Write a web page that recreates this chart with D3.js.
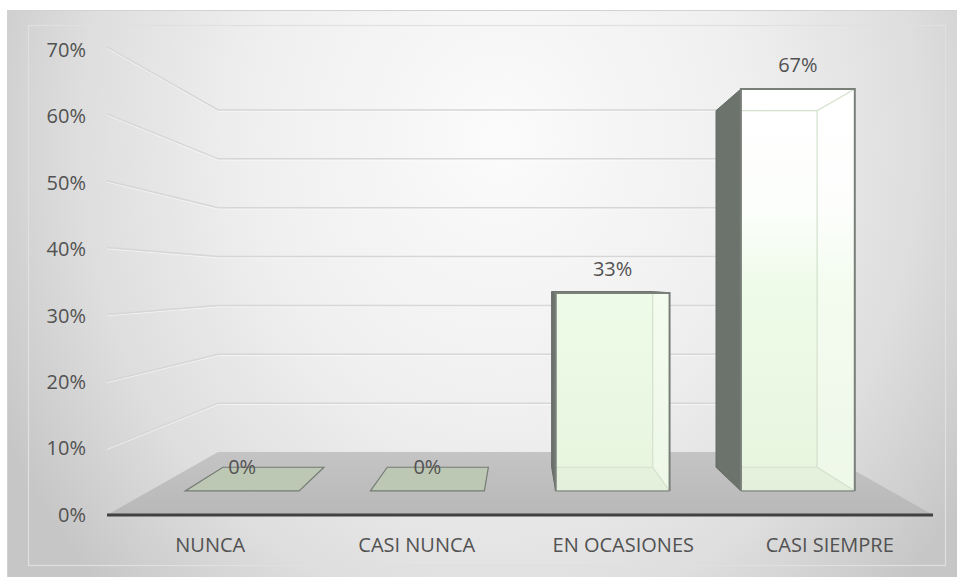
<!DOCTYPE html>
<html>
<head>
<meta charset="utf-8">
<script src="https://cdn.jsdelivr.net/npm/d3@7"></script>
<style>
  html, body { margin: 0; padding: 0; background: #ffffff; }
  svg { display: block; }
</style>
</head>
<body>
<script>
// ---- data ----
const categories = ["NUNCA", "CASI NUNCA", "EN OCASIONES", "CASI SIEMPRE"];
const values = [0, 0, 0.33, 0.67];
const yTicks = [0, 0.1, 0.2, 0.3, 0.4, 0.5, 0.6, 0.7];

const W = 957, H = 577;
const svg = d3.select("body").append("svg").attr("width", W).attr("height", H);
const pct = d3.format(".0%");
const FONT = "'Open Sans', 'Noto Sans', sans-serif";
const TEXT = "#525252";

// ---- scales on the front plane of the 3D box ----
const x = d3.scaleBand().domain(categories).range([107, 933])
  .paddingInner(0.385).paddingOuter(0.1925);
const y = d3.scaleLinear().domain([0, 0.7]).range([515, 47]);
const yLabel = d3.scaleLinear().domain([0, 0.7]).range([515, 50]);

// ---- perspective: points shrink toward a vanishing point with depth ----
const VP = [520, 281];
const DEPTH = { front: 1, barFront: 0.897, barBack: 0.796, wall: 0.731 };
const proj = (px, py, k) => [VP[0] + (px - VP[0]) * k, VP[1] + (py - VP[1]) * k];
const line = d3.line();

// ---- gradients ----
const defs = svg.append("defs");
const bg = defs.append("radialGradient").attr("id", "bgGrad")
  .attr("gradientUnits", "userSpaceOnUse")
  .attr("cx", 0).attr("cy", 0).attr("r", 1)
  .attr("gradientTransform", "translate(500,140) scale(560,640)");
[[0, "#fbfbfb"], [0.45, "#efefef"], [0.75, "#dedede"], [0.93, "#cdcdcd"], [1, "#c6c6c6"]]
  .forEach(([o, c]) => bg.append("stop").attr("offset", o).attr("stop-color", c));

const barGrad = defs.append("linearGradient").attr("id", "barGrad")
  .attr("gradientUnits", "userSpaceOnUse")
  .attr("x1", 0).attr("y1", 88).attr("x2", 0).attr("y2", 491);
[[0, "#ffffff"], [0.3, "#fcfefb"], [0.5, "#eefbe8"], [1, "#e7f5df"]]
  .forEach(([o, c]) => barGrad.append("stop").attr("offset", o).attr("stop-color", c));

const floorGrad = defs.append("linearGradient").attr("id", "floorGrad")
  .attr("x1", 0).attr("y1", 0).attr("x2", 0).attr("y2", 1);
[[0, "#c4c4c4"], [1, "#b8b8b8"]]
  .forEach(([o, c]) => floorGrad.append("stop").attr("offset", o).attr("stop-color", c));

// ---- chart area ----
svg.append("rect").attr("x", 7.5).attr("y", 10.5).attr("width", W).attr("height", H)
  .attr("fill", "url(#bgGrad)").attr("stroke", "#d2d2d2");
svg.append("rect").attr("x", 28.5).attr("y", 25.5).attr("width", 917).attr("height", 540)
  .attr("fill", "none").attr("stroke", "#e0e0e0").attr("stroke-width", 1.2);

// ---- gridlines along the side wall and the back wall ----
const [xL, xR] = x.range();
const grid = svg.append("g");
yTicks.filter(t => t > 0).forEach(t => {
  const pts = [proj(xL, y(t), DEPTH.front), proj(xL, y(t), DEPTH.wall), proj(xR, y(t), DEPTH.wall)];
  grid.append("path").attr("d", line(pts.map(p => [p[0], p[1] + 1.3])))
    .attr("fill", "none").attr("stroke", "#ffffff").attr("stroke-opacity", 0.55).attr("stroke-width", 1);
  grid.append("path").attr("d", line(pts))
    .attr("fill", "none").attr("stroke", "#d6d6d6").attr("stroke-width", 1.4);
});

// ---- floor ----
const floorPts = [
  proj(xL, y(0), DEPTH.front), proj(xR, y(0), DEPTH.front),
  proj(xR, y(0), DEPTH.wall), proj(xL, y(0), DEPTH.wall)
];
svg.append("path").attr("d", line(floorPts) + "Z").attr("fill", "url(#floorGrad)");

// ---- bars ----
const bars = svg.append("g");
categories.forEach((cat, i) => {
  const v = values[i];
  const x0 = x(cat), x1 = x0 + x.bandwidth();
  const yb = y(0), yt = y(v);
  const face = k => ({ tl: proj(x0, yt, k), tr: proj(x1, yt, k), br: proj(x1, yb, k), bl: proj(x0, yb, k) });
  const f = face(DEPTH.barFront), b = face(DEPTH.barBack);
  const g = bars.append("g");

  if (v === 0) {
    g.append("path").attr("d", line([f.bl, f.br, b.br, b.bl]) + "Z")
      .attr("fill", "#bcc8b3").attr("stroke", "#767b76").attr("stroke-width", 1.2);
  } else {
    // translucent front face
    g.append("path").attr("d", line([f.tl, f.tr, f.br, f.bl]) + "Z").attr("fill", "url(#barGrad)");
    // right face and floor face seen through the glass
    g.append("path").attr("d", line([f.tr, b.tr, b.br, f.br]) + "Z")
      .attr("fill", "#ffffff").attr("fill-opacity", 0.3);
    g.append("path").attr("d", line([f.bl, f.br, b.br, b.bl]) + "Z")
      .attr("fill", "#dfe9d8").attr("fill-opacity", 0.35);
    // hidden edges
    [[b.tl, b.tr], [b.tr, b.br], [b.bl, b.br], [f.tr, b.tr], [f.br, b.br]].forEach(seg => {
      g.append("path").attr("d", line(seg)).attr("fill", "none")
        .attr("stroke", "#d3e0cc").attr("stroke-width", 1.2);
    });
    // visible side face
    if (f.tl[0] > VP[0]) {
      g.append("path").attr("d", line([f.tl, b.tl, b.bl, f.bl]) + "Z")
        .attr("fill", "#6c726c").attr("stroke", "#626862").attr("stroke-width", 1);
    } else if (f.tr[0] < VP[0]) {
      g.append("path").attr("d", line([f.tr, b.tr, b.br, f.br]) + "Z")
        .attr("fill", "#6c726c").attr("stroke", "#626862").attr("stroke-width", 1);
    }
    // visible top face when it lies below the eye level
    if (f.tl[1] > VP[1]) {
      g.append("path").attr("d", line([f.tl, f.tr, b.tr, b.tl]) + "Z")
        .attr("fill", "#f4fbf0").attr("stroke", "#6f746f").attr("stroke-width", 1.5);
    }
    // front face outline
    g.append("path").attr("d", line([f.bl, f.tl, f.tr, f.br]))
      .attr("fill", "none").attr("stroke", "#7a7f7a").attr("stroke-width", 2);
    g.append("path").attr("d", line([f.bl, f.br]))
      .attr("fill", "none").attr("stroke", "#8a908a").attr("stroke-width", 1.5);
  }

  // value label above the front face
  g.append("text")
    .attr("x", (f.tl[0] + f.tr[0]) / 2)
    .attr("y", f.tl[1] - 17)
    .attr("text-anchor", "middle")
    .attr("font-family", FONT).attr("font-size", 20).attr("fill", TEXT)
    .text(pct(v));
});

// ---- category axis line ----
svg.append("line")
  .attr("x1", xL).attr("x2", xR).attr("y1", y(0)).attr("y2", y(0))
  .attr("stroke", "#414141").attr("stroke-width", 3);

// ---- value axis labels ----
const yAxis = d3.axisLeft(yLabel).tickValues(yTicks).tickFormat(pct).tickSize(0).tickPadding(0);
const yg = svg.append("g").attr("transform", "translate(86,0)").call(yAxis);
yg.select(".domain").remove();
yg.selectAll("text")
  .attr("font-family", FONT).attr("font-size", 20).attr("fill", TEXT);

// ---- category labels ----
const xAxis = d3.axisBottom(x).tickSize(0).tickPadding(0);
const xg = svg.append("g").attr("transform", "translate(0,537)").call(xAxis);
xg.select(".domain").remove();
xg.selectAll("text")
  .attr("dy", "0.74em")
  .attr("font-family", FONT).attr("font-size", 20).attr("fill", TEXT);
</script>
</body>
</html>
